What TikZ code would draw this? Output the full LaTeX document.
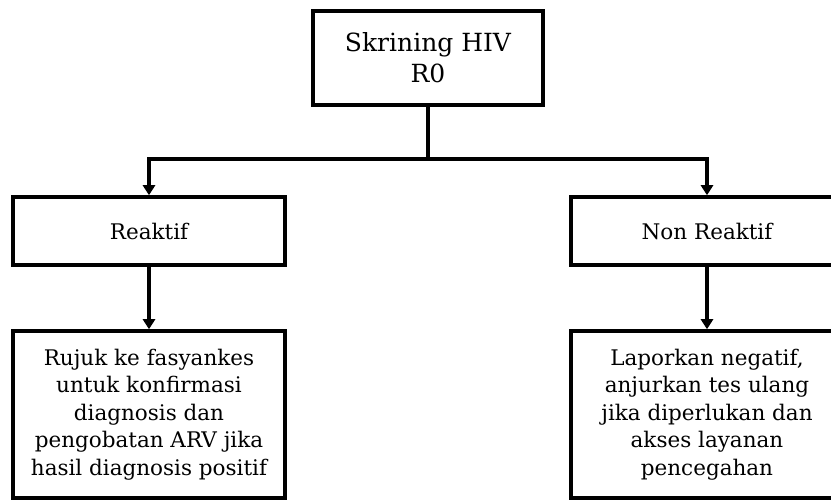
\documentclass[tikz,border=0pt]{standalone}
\usepackage{fontspec}
\setmainfont{DejaVu Serif}
\usepackage{tikz}
\usetikzlibrary{arrows.meta,positioning}
\tikzset{flow node/.style={rectangle, draw=black, line width=3.5pt, fill=white,
    align=center, inner sep=0pt}}
\tikzset{result node/.style={flow node, minimum width=272pt, minimum height=68pt,
    font=\fontsize{21.5}{27}\selectfont}}
\tikzset{action node/.style={flow node, minimum width=272pt, minimum height=167pt,
    font=\fontsize{21.5}{27.5}\selectfont}}
\tikzset{flow edge/.style={draw=black, line width=3.3pt}}
\tikzset{flow arrow/.style={flow edge, -{Triangle[width=12pt,length=10pt]}}}

\begin{document}
\begin{tikzpicture}
  [x=1pt, y=1pt]
  \useasboundingbox (0,0) rectangle (831,500);
  \clip (0,0) rectangle (831,500);
  \fill [white] (0,0) rectangle (831,500);

  \node [flow node, minimum width=230pt, minimum height=94pt,
         font=\fontsize{25}{31}\selectfont] (skrining) at (428, 442) {Skrining HIV\\R0};
  \coordinate                    (split)  at (428, 341);
  \node [result node] (reaktif)    at (149, 269) {Reaktif};
  \node [result node] (nonreaktif) at (707, 269) {Non Reaktif};
  \node [action node] (rujuk)      at (149, 85.5) {Rujuk ke fasyankes\\untuk konfirmasi\\diagnosis dan\\pengobatan ARV jika\\hasil diagnosis positif};
  \node [action node] (lapor)      at (707, 85.5) {Laporkan negatif,\\anjurkan tes ulang\\jika diperlukan dan\\akses layanan\\pencegahan};

  \draw [flow edge]  (skrining) -- (split);
  \draw [flow arrow] (split) -| (reaktif);
  \draw [flow arrow] (split) -| (nonreaktif);
  \draw [flow arrow] (reaktif) -- (rujuk);
  \draw [flow arrow] (nonreaktif) -- (lapor);
\end{tikzpicture}
\end{document}
